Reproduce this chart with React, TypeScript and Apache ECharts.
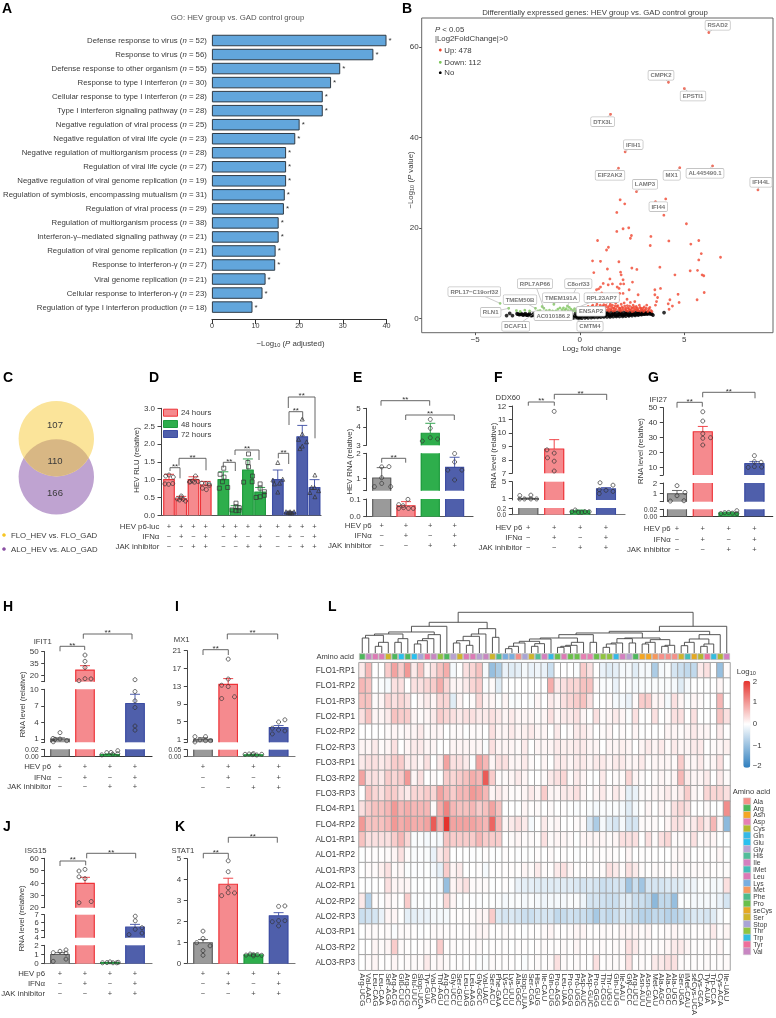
import React, { useEffect, useRef } from "react";
import * as echarts from "echarts";

const FONT = "'Liberation Sans', Arial, sans-serif";
const INK = "#3a3a3a";

// ---------- Panel A ----------
const GO_TERMS = ["Defense response to virus","Response to virus","Defense response to other organism","Response to type I interferon","Cellular response to type I interferon","Type I interferon signaling pathway","Negative regulation of viral process","Negative regulation of viral life cycle","Negative regulation of multiorganism process","Regulation of viral life cycle","Negative regulation of viral genome replication","Regulation of symbiosis, encompassing mutualism","Regulation of viral process","Regulation of multiorganism process","Interferon-γ–mediated signaling pathway","Regulation of viral genome replication","Response to interferon-γ","Viral genome replication","Cellular response to interferon-γ","Regulation of type I interferon production"];
const GO_COUNTS = [52,56,55,30,28,28,25,23,28,27,19,31,29,38,21,21,27,21,23,18];
const GO_VALUES = [40,37,29.4,27.3,25.4,25.4,20.1,19.1,17,17,17,16.7,16.5,15.3,15.3,14.6,14.5,12.3,11.6,9.3];

// ---------- Panel B ----------
const UP_POINTS = [[6.17,63.2],[4.24,52.2],[5,50.8],[1.47,45.1],[2.17,36.8],[1.85,33.2],[4.78,33.3],[6.35,33.7],[2.71,28],[8.52,28.4],[3.62,25.8],[4.11,26.4],[1.93,26.2],[2.15,25.3],[1.77,23.4],[4.02,22.8],[5.1,20.9],[1.77,19.2],[2.07,19.8],[2.34,20],[2.47,18.3],[2.42,17.7],[.85,17.2],[3.4,18.1],[4.26,17.1],[3.37,16.1],[5.31,16.4],[5.69,17.2],[1.37,15.7],[1.28,15.1],[5.81,14.3],[5.69,12.9],[6.73,13.5],[.61,12.7],[.99,12.6],[1.87,12.5],[2.49,11.1],[2.73,10.8],[3.83,11.3],[1.32,10.9],[.67,10.1],[5.28,10.5],[5.63,10.6],[4.55,9.6],[5.85,9.6],[5.93,9.4],[.8,6.3],[.99,6.9],[1.12,7.7],[1.36,7.4],[1.56,7.6],[1.79,6.9],[1.88,6.6],[1.95,7.6],[2.07,8.5],[2.1,7.6],[2.52,8],[1.44,8.7],[1.95,10.2],[1.98,9.6],[2.36,6.3],[2.07,5.5],[3.59,6.3],[3.86,6.6],[3.59,5.2],[3.72,4.6],[4.31,4.1],[4.7,5.3],[4.75,3.5],[4.43,2.7],[4.23,3.2],[4.27,2],[5.61,4.1],[5.95,5.7],[3.35,2.4],[3.62,2.9],[3.67,3.7],[2.79,5.2],[2.63,3.7],[1.91,5.5],[2.26,4.2],[1.44,4.4],[1.24,5.2],[.9,6.5],[1.05,5.6],[.72,5.4],[.55,4.1],[.62,2.9],[.4,2.6],[.48,1.9],[.7,2.3],[.82,3.1],[.93,2.5],[1,3.7],[1.08,2.1],[1.15,3],[1.22,2.4],[1.3,3.6],[1.38,2.1],[1.46,3.1],[1.52,2.5],[1.6,4.5],[1.65,2.2],[1.72,3.3],[1.78,2.6],[1.84,4.1],[1.92,2.2],[1.98,3.1],[2.02,2.5],[2.12,3.4],[2.2,2.2],[2.27,2.8],[2.35,2.1],[2.42,3.5],[2.48,2.4],[2.55,2.9],[2.62,2],[2.7,2.6],[2.78,2.1],[2.85,2.9],[2.92,2.2],[3,1.8],[3.08,2.5],[3.14,1.9],[3.2,2.9],[3.28,1.7],[.55,2.1],[.75,1.8],[.95,1.9],[1.12,1.7],[1.3,1.8],[1.5,1.8],[1.68,1.7],[1.86,1.8],[2.05,1.8],[2.22,1.7],[2.4,1.8],[2.58,1.6],[2.75,1.7],[2.9,1.6],[3.05,1.5],[3.25,1.5],[3.4,1.7],[.35,1.8],[.6,1.7],[.85,1.6],[1.05,1.6],[1.4,1.6],[1.6,1.6],[1.95,1.6],[2.3,1.6],[2.5,1.5]];
const UP_CLOUD = [[.42,1.7],[.5,2.3],[.58,2.6],[.65,1.9],[.78,2.6],[.88,2.1],[.98,2.9],[1.02,2.3],[1.1,2.7],[1.18,1.9],[1.25,2.9],[1.33,2.5],[1.42,2.7],[1.48,2],[1.56,2.9],[1.6,2.2],[1.68,2.7],[1.74,2],[1.82,2.8],[1.88,2.3],[1.95,2],[2.08,2.2],[2.15,2.7],[2.18,1.9],[2.3,2.3],[2.38,2.7],[2.45,1.9],[2.52,2.2],[2.6,2.5],[2.68,1.9],[2.72,2.3],[2.8,1.7],[2.88,2.4],[2.95,1.9],[3.02,2.2],[3.1,1.7],[3.18,2.2],[3.3,2.1],[3.45,1.5]];
const DOWN_POINTS = [[-3.81,3.3],[-3.4,2.2],[-3.03,1.7],[-2.85,1.5],[-2.63,1.8],[-2.4,1.6],[-2.12,2.2],[-1.8,2.6],[-1.72,2.2],[-1.6,1.7],[-1.45,1.8],[-1.24,3.1],[-1.05,2],[-.95,2.3],[-.85,1.9],[-.72,1.8],[-.59,2.7],[-.5,2.4],[-.42,2],[-.33,1.7],[-.25,2.1],[-.2,1.6],[-.12,1.7],[-.55,1.7],[-1.3,1.6],[-.78,2.3],[-2,1.6],[-1.9,1.7],[-.65,2.1],[-1.15,1.6]];
const NS_POINTS = [[-3.5,.6],[-3.35,1.1],[-3.22,.6],[-3,1],[-2.9,.8],[-2.8,1],[-2.7,.7],[-2.6,1],[-2.5,.7],[-2.4,1],[-2.3,.6],[-2.2,1],[-2.1,.5],[-2,.9],[-1.9,.5],[-1.8,.9],[-1.7,.4],[-1.6,.9],[-1.5,.4],[-1.4,.9],[-1.3,.3],[-1.2,.9],[-1.1,.3],[-1,.9],[-.9,.2],[-.8,.9],[-.7,.2],[-.6,.9],[-.5,.1],[-.4,1],[-.3,.1],[-.2,1.1],[-.15,.4],[-.1,.05],[-.05,.7],[0,.1],[0,1.2],[.05,.4],[.05,.9],[.1,.05],[.15,1.3],[.2,.5],[.25,.1],[.3,1.3],[.35,.6],[.4,.1],[.45,1.3],[.5,.6],[.55,.15],[.6,1.3],[.65,.7],[.7,.2],[.75,1.3],[.8,.7],[.85,.2],[.9,1.3],[.95,.8],[1,.25],[1.05,1.3],[1.1,.8],[1.15,.3],[1.2,1.3],[1.25,.8],[1.3,.3],[1.35,1.3],[1.4,.8],[1.45,.3],[1.5,1.3],[1.55,.8],[1.6,.35],[1.65,1.3],[1.7,.85],[1.75,.4],[1.8,1.3],[1.85,.85],[1.9,.4],[1.95,1.3],[2,.9],[2.05,.45],[2.1,1.3],[2.15,.9],[2.2,.5],[2.25,1.3],[2.3,.9],[2.35,.55],[2.4,1.3],[2.45,.95],[2.5,.6],[2.55,1.3],[2.6,1],[2.65,.65],[2.7,1.3],[2.75,1],[2.8,.7],[2.85,1.3],[2.9,1],[2.95,.8],[3,1.3],[3.05,1],[3.1,.9],[3.15,1.3],[3.2,1],[3.25,1],[3.3,1.2],[3.35,1],[3.5,.7],[4.03,1.25]];
const NS_BAND = [[-2.95,.9],[-2.85,.85],[-2.75,.8],[-2.65,.85],[-2.55,.7],[-2.45,.75],[-2.35,.65],[-2.25,.7],[-2.15,.6],[-2.05,.6],[-1.95,.5],[-1.85,.55],[-1.75,.5],[-1.65,.5],[-1.55,.4],[-1.45,.5],[-1.35,.35],[-1.25,.45],[-1.15,.3],[-1.05,.4],[-.95,.25],[-.85,.45],[-.75,.2],[-.65,.45],[-.55,.2],[-.45,.5],[-.35,.3],[-.25,.5],[-.2,.2],[-.1,.6],[-.05,.2],[.12,.7],[.22,.9],[.32,.3],[.42,.8],[.52,1],[.62,.4],[.72,.9],[.82,1],[.92,.5],[1.02,.7],[1.12,.55],[1.22,.6],[1.32,1],[1.42,.55],[1.52,.6],[1.62,1],[1.72,.6],[1.82,.65],[1.92,1],[2.02,.7],[2.12,.65],[2.22,1],[2.32,.7],[2.42,.75],[2.52,.9],[2.62,.8],[2.72,.85],[2.82,.95],[2.92,.9],[3.02,1.05],[3.12,1.05],[3.22,1.1],[3.4,1.05],[3.45,.9]];
const VOLCANO_LABELS: [string, number, number, number, number][] = [["RSAD2",6.17,63.2,717.7,25.3],["CMPK2",4.24,52.2,661,75.3],["EPSTI1",5,50.8,693,96],["DTX3L",1.47,45.1,602.7,121.7],["IFIH1",2.17,36.8,633.3,144.7],["EIF2AK2",1.85,33.2,610,175.3],["MX1",4.78,33.3,671.7,175.3],["AL445490.1",6.35,33.7,705,173.3],["LAMP3",2.71,28,645,184.3],["IFI44L",8.52,28.4,761,182.3],["IFI44",3.62,25.8,658.3,206.7],["RPL17−C19orf32",-3.81,3.3,474.3,291.7],["RLN1",-3.4,2.2,490.7,312.3],["TMEM50B",-2.12,2.2,520,299.7],["RPL7AP66",-1.72,2.2,535,283.7],["TMEM191A",-1.24,3.1,561,297.7],["C8orf33",-.59,2.7,578.3,283.7],["RPL23AP7",-.25,2.1,601.7,297.7],["AC010186.2",-2.4,1.6,553.3,315.7],["ENSAP2",-.5,1.7,591,311.3],["CMTM4",-.3,.1,590,326.3],["DCAF11",-2.2,1,515.7,326.3]];

// ---------- Bar panels ----------
const SIGN_HEV = ["+","+","+","+"];
const SIGN_IFN = ["−","+","−","+"];
const SIGN_JAK = ["−","−","+","+"];

const D_VALUES = [1,.46,1,.85,1,.18,1.27,.65,1,.08,2.2,.78];
const D_ERRORS = [1.15,.53,1.08,.95,1.22,.27,1.58,.78,1.27,.1,2.52,1];
const D_POINTS = [
  [[-.27,1.1],[0,1.13],[.35,1.07],[-.33,.88],[-.03,.87],[.3,.89]],
  [[0,.54],[-.33,.46],[-.14,.43],[.16,.45],[.35,.4],[0,.49]],
  [[-.27,.95],[-.08,.96],[.16,1.1],[.35,.95],[-.33,.93],[.08,.93]],
  [[-.33,.9],[0,.89],[.27,.88],[-.27,.76],[.05,.72],[.3,.84]],
  [[.03,1.32],[-.27,1.15],[.05,1.07],[-.33,.76],[.35,.78],[-.08,.94]],
  [[.03,.34],[.03,.24],[-.3,.15],[.27,.14],[.03,.13],[.3,.21]],
  [[.05,1.72],[0,1.48],[.05,1.36],[.38,1.1],[-.35,.93],[.35,.94]],
  [[0,.88],[0,.76],[.35,.66],[-.33,.5],[0,.52],[.35,.56]],
  [[0,1.48],[-.4,.99],[.4,1.01],[.14,.9],[-.27,.88],[0,.65]],
  [[-.33,.1],[-.16,.08],[0,.1],[.16,.07],[.33,.1],[0,.07]],
  [[0,2.7],[0,2.28],[-.3,2.13],[.35,2.06],[0,1.94],[-.19,1.87]],
  [[.03,1.13],[-.24,.78],[0,.78],[.33,.69],[.03,.52],[-.38,.64]],
];
const E_VALUES = [1,.062,3.65,1.43];
const E_ERRORS = [1.42,.085,4.19,1.84];
const E_POINTS = [
  [[0,1.45],[.3,1.46],[0,1.01],[0,.78],[-.3,.65],[.37,.65]],
  [[-.3,.068],[-.12,.062],[.08,.098],[-.3,.047],[-.1,.051],[.1,.047],[.3,.047]],
  [[0,4.4],[0,3.92],[0,3.41],[.3,3.34],[-.33,3.23]],
  [[0,1.99],[0,1.65],[.3,1.32],[-.28,1.32],[0,.92]],
];
const F_VALUES = [1,8.8,.12,3.3];
const F_ERRORS = [1.15,9.5,.14,3.6];
const F_POINTS = [
  [[-.33,1.73],[-.33,.92],[-.15,.92],[.1,1.82],[.1,.92],[.32,.92]],
  [[0,11.6],[-.28,8.74],[0,8.5],[-.26,8.15],[0,7.9],[0,7.17]],
  [[-.32,.09],[-.19,.14],[-.06,.07],[.06,.07],[.19,.09],[.35,.09]],
  [[-.23,4.75],[-.26,3.1],[-.26,2.2],[0,2.96],[.27,4.18],[.27,2.7]],
];
const G_VALUES = [1,34,.01,12.7];
const G_ERRORS = [1.3,37.5,.012,14];
const G_POINTS = [
  [[-.26,2.03],[0,1.75],[.31,1.12],[0,.81],[-.26,.31],[.27,.34]],
  [[0,47.3],[0,41.1],[0,32.7],[0,29.6],[.3,30],[0,25.1]],
  [[-.3,.008],[-.15,.0105],[0,.011],[.15,.009],[.32,.016],[.32,.008]],
  [[0,18],[0,14],[.26,13.6],[-.24,10.2],[0,10.7],[.28,10.4]],
];
const H_VALUES = [1,27,.005,7.42];
const H_ERRORS = [1.2,32.5,.007,9.1];
const H_POINTS = [
  [[0,2.15],[-.28,1.1],[0,1],[.27,.7],[-.27,.5],[-.2,.95]],
  [[0,45.8],[0,38],[0,30.4],[.24,16],[0,16.25],[-.24,13.75]],
  [[-.33,.004],[-.13,.0105],[.04,.011],[.11,.006],[.31,.016],[.31,.0075]],
  [[0,15],[0,9.6],[0,7.9],[0,6.7],[0,3.35],[0,2.6]],
];
const I_VALUES = [1,13.4,.012,3.63];
const I_ERRORS = [1.35,14.7,.015,4.1];
const I_POINTS = [
  [[-.32,1.6],[-.32,.4],[-.12,.85],[.1,1.6],[.1,.7],[.3,.7]],
  [[0,19.1],[0,14.6],[-.26,13.2],[0,12.9],[.25,10.6],[-.26,10.2]],
  [[-.33,.015],[-.17,.0175],[-.03,.0125],[.13,.01],[.33,.015],[0,.02]],
  [[.25,5.4],[0,4.9],[-.25,3.5],[0,3.1],[.25,2.9],[-.25,2.2]],
];
const J_VALUES = [1,39.7,.12,5.39];
const J_ERRORS = [1.2,44.6,.14,5.74];
const J_POINTS = [
  [[.24,1.5],[.24,.5],[0,1.35],[-.27,1.2],[-.27,.25],[.24,1.15]],
  [[-.24,49.7],[0,51],[-.24,45],[0,43.5],[-.24,24],[.25,25]],
  [[-.3,.1],[-.12,.12],[0,.2],[.12,.1],[.27,.1],[.33,.15]],
  [[.01,6.8],[.01,6.2],[.28,5.3],[.01,5.1],[.28,4.6],[-.24,4.4]],
];
const K_VALUES = [1,3.78,.42,2.28];
const K_ERRORS = [1.15,4.07,.47,2.43];
const K_POINTS = [
  [[0,1.55],[0,1.2],[-.25,1],[.28,.85],[0,.62],[0,.4]],
  [[0,4.9],[0,4.38],[0,3.62],[0,3.38],[-.26,3.24],[.25,3.37]],
  [[-.29,.41],[-.13,.46],[0,.43],[.16,.43],[.33,.4],[0,.37]],
  [[0,2.73],[.25,2.75],[-.25,2],[0,2.05],[.25,2.05],[0,1.8]],
];

// ---------- Venn ----------
const VENN_COUNTS = ["107","110","166"];

// ---------- Heatmap ----------
const HEAT_ROWS = ["FLO1-RP1","FLO1-RP2","FLO1-RP3","FLO2-RP1","FLO2-RP2","FLO2-RP3","FLO3-RP1","FLO3-RP2","FLO3-RP3","FLO4-RP1","FLO4-RP2","ALO1-RP1","ALO1-RP2","ALO1-RP3","ALO2-RP1","ALO2-RP2","ALO2-RP3","ALO3-RP1","ALO3-RP2","ALO3-RP3"];
const TRNA = ["Arg-UCG","Val-AAC","Leu-CAG","Leu-CAA","Ser-AGA","Arg-ACG","Glu-CUC","Arg-CCG","Glu-UUC","Stop-UCA","Tyr-GUA","Val-CAC","Thr-AGU","Arg-CCU","Gly-UCC","Ser-GCU","Leu-UAG","Leu-AAG","Gly-GCC","Val-UAC","Ser-ACU","Phe-GAA","Lys-CUU","Lys-UUU","Ala-GGC","Stop-UUA","Ser-CGA","His-GUG","Ile-CAU","Gln-CUG","Pro-AGG","Leu-UAA","Pro-CGG","Pro-UGG","Asp-AUC","Asp-GUC","Pro-GGG","Thr-CGU","Thr-UGU","Gln-UUG","Ile-AAU","Gly-CCC","Arg-UCU","Asn-AUU","Asn-GUU","Met-CAU","Ala-AGC","Ala-CGC","Ala-UGC","Ser-UGA","iMet-CAU","seCys-UCA","Cys-GCA","Tyr-AUA","Trp-CCA","Cys-ACA","Ile-UAU"];
const AMINO = ["Ala","Arg","Asn","Asp","Cys","Gln","Glu","Gly","His","Ile","iMet","Leu","Lys","Met","Phe","Pro","seCys","Ser","Stop","Thr","Trp","Tyr","Val"];
const AMINO_COLORS = ["#f69089","#4db85c","#f5a623","#e77fb3","#b3b82e","#35b9e6","#29c0ef","#b9a2d2","#53bd9a","#d57fc0","#45bdb8","#dd7ab6","#79aee0","#f6985e","#4dbb8b","#69c04a","#e5a823","#cfb52b","#a9a4d6","#8fc43f","#33bddf","#ef6f9b","#c886c2"];
const R01 = [.2,.7,0,0,.5,.9,.5,1,.2,.6,.1,.3,.6,.8,-.1,0,.3,.4,.6,-.1,-1,-.8,-.2,-.3,-.25,-.1,-.2,-.15,-.2,-.5,0,0,0,-.05,.5,.3,0,-.2,-.3,-.25,-.1,-.1,-.3,-.1,-.1,-.8,-.1,-.05,-.4,-.5,-.6,-.6,.2,.3,0,-1,.05];
const R02 = [.7,.6,0,-.05,-.1,.3,.3,0,.3,.3,.4,.5,.8,.4,.1,.1,.2,.4,.5,-.05,.05,-.3,0,0,0,0,0,0,0,.8,.2,.3,.4,.4,.6,.6,.05,-.05,-.05,-.2,0,-.05,-.1,-.05,-.05,-.05,-.05,-.05,-.1,-.3,-.1,0,0,0,0,.1,0];
const R03 = [.6,.6,.05,.1,.4,.3,.4,.3,0,.1,.2,.1,.4,.4,-.3,.1,0,.05,.4,.1,.1,-.05,.1,-.05,-.05,0,-.05,.1,0,.2,.1,.3,.4,.5,.6,.3,0,0,.05,-.1,-.1,-.2,.05,.5,.5,.1,.1,-.1,.3,.1,-.05,.1,.05,0,0,.7,0];
const R04 = [.3,.6,.1,.1,.2,.6,.5,.5,.1,.05,.1,.2,.5,.4,.3,.2,.3,.3,.2,.2,.3,.2,.1,.2,.1,.1,.1,.05,.1,.3,.1,.2,.2,.3,.1,0,.3,.05,.1,.2,.1,-.05,.3,0,0,.3,0,.05,.3,.3,0,.3,0,0,0,.6,.3];
const R05 = [0,0,0,0,.05,.1,.05,.1,.1,.2,.05,.1,.1,0,.05,.05,-.02,.05,.05,0,.3,.1,.1,.2,.1,.15,.2,.1,.1,0,.2,0,.05,.2,.2,.1,0,.05,.1,0,.05,0,.1,-.02,0,0,0,.1,.1,.05,.1,.2,.1,.1,0,.2,.02];
const R06 = [.1,.1,.2,.05,.1,.3,0,.1,.2,.2,.1,.1,0,0,.1,.1,.1,.1,.1,-.05,.3,.1,.1,.1,.05,.2,0,.1,.1,.1,.2,.15,.15,.2,.2,.1,.1,0,.1,.1,.15,.1,0,.1,.2,.1,.2,.05,.2,.1,.1,.2,.2,0,.05,.1,.15];
const R07 = [.2,.3,.3,.2,.3,.5,.5,.2,.2,.1,.3,0,.2,.9,.3,.3,.2,-.05,.9,.7,.1,.3,.3,.1,.1,.2,.05,0,.1,0,.2,.2,.1,.2,.2,.1,.2,.2,.1,.2,.2,.1,.1,.2,.05,.1,.1,.1,.05,.5,.1,.1,.2,.05,.1,.3,0];
const R08 = [.9,.3,.3,.2,.5,.4,.5,1,.1,.3,0,.05,0,.5,.4,.5,.6,.8,.7,1.6,.5,.05,.05,.1,.2,.1,0,0,.05,.2,.3,.4,.05,.2,.1,0,-.02,.2,0,.05,.05,.4,.1,.05,0,.05,.1,.05,.1,.7,.2,.1,.1,.2,0,.2,.05];
const R09 = [0,.6,.4,.3,.5,.5,.3,.2,.4,.4,.5,.4,.9,.7,.5,.7,.7,1,.9,.7,.1,.2,.1,.05,.05,.1,.2,.1,.5,.1,.1,.2,.2,.3,.1,0,.1,.2,.05,.2,.1,-.25,-.2,.05,.05,.1,.1,.2,.1,.2,.5,.1,.05,.4,.4,.4,.3];
const R10 = [.3,.5,.6,.6,.7,1,.7,.8,.7,.7,.7,.05,.8,1.2,.7,.6,.6,.7,.5,.6,.9,.6,0,0,-.02,.1,.02,.05,0,.05,0,.02,-.02,-.05,0,-.05,-.1,-.05,-.05,-.05,-.1,-.3,-.1,0,.1,0,.1,.05,.3,.4,.3,0,0,.05,0,0,1.1];
const R11 = [1,.6,.6,.6,.7,1,.8,.9,.8,.8,.9,1.6,.8,2,.9,.9,.9,.9,.8,.7,1.5,.7,.1,.2,.3,.2,-.1,0,.2,.05,.1,0,0,.05,.05,-.4,-.8,-.1,-.3,-.4,-.1,-.4,-.4,.05,.05,.05,0,.1,.3,.3,.1,.2,.4,.2,.7,.1,-1.1];
const R12 = [.6,.3,.3,.3,.3,.5,.7,.4,-.05,-.05,-.1,-.05,-.1,.6,.5,.5,.5,.5,.7,.5,.5,.5,0,.05,.1,.05,.05,.02,.3,.05,.1,.1,.05,-.02,.1,.1,.1,.1,.05,.1,.3,.3,.3,0,.3,.05,.3,.4,.05,.05,.05,.3,.05,.1,.1,0,0];
const R13 = [-.02,.02,.02,.02,.05,.1,.3,.05,-.05,-.03,-.05,-.2,.2,.4,0,0,0,-.03,-.02,.02,-.02,-.02,.02,0,-.03,-.02,-.02,.02,0,.05,0,.02,0,-.03,0,0,.05,.02,.05,.02,0,.1,0,.02,.02,0,0,0,.05,.1,.05,0,.02,0,.02,.1,0];
const R14 = [0,.05,.05,.15,.3,.05,.1,-.05,-.03,-.03,-.02,-.1,-.25,.5,.1,.2,0,0,.02,-.1,.02,.02,.02,.03,.02,.1,.05,.2,.05,.02,.2,.3,.1,.02,.02,.05,.02,.05,.3,.2,.05,.3,.2,.05,.02,.05,.05,.02,.1,.05,.05,.05,.05,.05,.02,.02,.05];
const R15 = [0,-.03,0,0,.3,.1,.1,.1,-.02,-.02,-.02,-.02,-.1,-1,.1,.2,.3,.05,.05,.05,-.02,0,.02,-.03,-.2,-.25,-.25,-.3,-.3,-.3,-.3,-.3,-.3,-.35,-.4,-.35,-.4,-.5,-.45,-.4,-.4,-.9,-.5,-.9,-.4,-.4,-.4,-.35,-.35,-.3,-.15,-.15,-.05,-.05,-.1,-.1,.3];
const R16 = [.2,-.7,.02,-.03,.1,.05,0,.5,-.05,-.02,-.05,-.05,-.03,.4,.1,-.03,0,-.03,-.03,-.02,-.02,-.05,-.1,-.05,-.05,-.1,-.05,-.1,-.15,-.1,-.1,-.1,-.05,-.05,-.15,-.4,-.4,-.45,-.5,-.5,-.3,-.3,-.5,-.5,-.6,-1.1,-.6,-.6,-1,-.05,-.03,-.1,-.1,-.1,-.1,-.2,-.4];
const R17 = [-.5,-.45,-.4,-.2,.1,.1,0,-.25,-.25,-.2,-.2,-.1,-.1,-.1,.02,.02,.02,.05,.1,.1,.5,-.35,-.4,-.35,-.4,-.5,-.5,-.4,-.4,-.4,-.6,-.55,-.45,-.5,-.5,-.6,-.85,-.5,-.6,-.5,-.35,-.45,-.55,-.7,-.7,-.6,-.6,-.7,-.7,-.6,-.45,-.35,-.35,-.4,-.3,-.1,0];
const R18 = [0,.05,.05,.02,.05,-.05,.05,.05,.02,-.03,0,.05,.05,.03,.03,.02,.02,.05,.1,.1,.02,.02,.05,.02,0,-.03,.02,.02,.05,.1,.02,.02,.05,.1,.1,.02,.02,.05,.05,.02,.1,.1,.1,.05,.1,0,.02,.05,.1,.05,.05,.02,.03,.05,.2,.03,.1];
const R19 = [0,0,.1,.05,.1,.5,.05,.02,0,.02,.05,.02,.5,.02,.05,.02,.02,.03,.05,0,.02,.02,.02,0,.02,.02,0,.02,.05,.02,.02,.05,.02,.1,.02,.02,.02,.05,.02,.05,.05,.3,.2,.05,.05,.02,.05,.1,.2,.2,.1,.02,.02,.05,.02,.1,0];
const R20 = [0,.05,.1,.02,.02,.1,.02,.05,.05,.05,.2,.05,.1,.05,.02,.02,0,.02,-.03,-.05,.05,.02,.02,.02,0,-.05,.02,.05,.02,.05,.3,.05,.02,.05,.02,0,.3,.02,.05,.05,.05,.3,.02,.05,.02,.2,.2,.3,.3,.05,.02,.02,.02,.05,.02,.02,.05];
const HEAT_VALUES = [R01,R02,R03,R04,R05,R06,R07,R08,R09,R10,R11,R12,R13,R14,R15,R16,R17,R18,R19,R20];
// Dendrogram: [height, left, right]; 0 = next leaf, left to right
const S1: any = [55,[45,[42,[35,[30,[20,[13,0,0],0],0],[28,[20,0,0],0]],0],[32,[23,[20,[17,0,0],0],0],0]],[32,0,0]];
const S2: any = [45,[43,[30,[27,[17,0,0],0],0],[30,0,0]],[40,[32,[27,0,0],0],[23,[20,0,0],0]]];
const DENDRO_LEFT: any = [92,[80,[63,[57,[53,[45,0,0],[32,[20,0,0],0]],[43,[32,0,0],0]],[55,[43,[37,[27,0,0],0],0],0]],0],[73,[57,[50,[37,[30,0,0],[23,0,0]],0],0],[47,0,0]]];
const DENDRO_RIGHT: any = [80,[65,[60,S1,S2],[55,[42,[32,[22,0,0],0],[27,[20,0,0],0]],0]],0];
const DENDRO: any = [122,DENDRO_LEFT,DENDRO_RIGHT];

// ---------- styling ----------
const FILLS = ["#9a9a9a","#f58a8e","#2eae4c","#4f5fab"];
const STROKES = ["#5c5c5c","#ee3338","#1f9a3e","#3c4da3"];
const TXT = 7.8;

const grids: any[] = [], xAxes: any[] = [], yAxes: any[] = [], series: any[] = [], gfx: any[] = [];

const richBase = { fontSize: TXT, fontFamily: FONT, fill: INK };
const richStyles = { r: richBase, s: { ...richBase, fontSize: 5.6, verticalAlign: "bottom" }, i: { ...richBase, fontStyle: "italic" } };

function text(x: number, y: number, t: string, o: any = {}) {
  const { rotation, ...st } = o;
  gfx.push({ type: "text", x, y, z: 100, rotation, silent: true, style: { text: t, fontFamily: FONT, fontSize: TXT, fill: INK, align: "left", verticalAlign: "middle", ...st } });
}
function polyline(points: number[][], stroke = "#444", lineWidth = 0.9) {
  gfx.push({ type: "polyline", z: 99, silent: true, shape: { points }, style: { stroke, lineWidth, fill: "none" } });
}
function bracket(b: number[], stroke = "#555") {
  const [x1, x2, y, l, r] = b;
  polyline([[x1, l], [x1, y], [x2, y], [x2, r]], stroke);
  text((x1 + x2) / 2, y - 1.2, "**", { align: "center", fontSize: 8, fill: "#333" });
}

function barPanel(p: any) {
  const xMin = (p.axisX - p.center0) / p.step, xMax = (p.endX - p.center0) / p.step;
  const slots: number[] = p.slots || p.values.map((_: number, i: number) => i);
  const cols: number[] = p.colors || [0, 1, 2, 3];
  p.segs.forEach((seg: any, si: number) => {
    const g = grids.length;
    grids.push({ left: p.axisX, width: p.endX - p.axisX, top: seg.top, height: seg.bottom - seg.top });
    xAxes.push({ gridIndex: g, type: "value", min: xMin, max: xMax, show: si === 0, axisLine: { onZero: false, lineStyle: { color: p.baseColor || "#555", width: 1.2 } }, axisTick: { show: false }, axisLabel: { show: false }, splitLine: { show: false } });
    yAxes.push({ gridIndex: g, type: "value", min: seg.min, max: seg.max, axisLine: { show: true, onZero: false, lineStyle: { color: "#444", width: 1 } }, axisTick: { show: true, length: 3.5, customValues: seg.ticks, lineStyle: { color: "#444", width: 1 } }, axisLabel: { show: false }, splitLine: { show: false } });
    // tick labels: the tight broken-axis segments would lose labels to the axis' overlap handling
    const yOf = (v: number) => seg.bottom - ((v - seg.min) / (seg.max - seg.min)) * (seg.bottom - seg.top);
    const ys = seg.labels.map(yOf);
    let gap = 99;
    for (let i = 1; i < ys.length; i++) gap = Math.min(gap, Math.abs(ys[i] - ys[i - 1]));
    seg.labels.forEach((v: number, i: number) => text(p.axisX - 6, ys[i], seg.digits ? v.toFixed(seg.digits) : String(v), { align: "right", fontSize: Math.min(8, gap) }));
    const inSeg = (v: number) => v >= seg.min && v <= seg.max;
    series.push({
      type: "bar", xAxisIndex: g, yAxisIndex: g, barWidth: p.barWidth, clip: true, silent: true, z: 2,
      data: p.values.map((v: number, i: number) => ({ value: [slots[i], v], itemStyle: { color: FILLS[cols[i]] } })),
    });
    const w = p.barWidth;
    series.push({
      type: "custom", xAxisIndex: g, yAxisIndex: g, coordinateSystem: "cartesian2d", silent: true, z: 3, encode: { x: 0, y: 1 },
      data: p.values.map((v: number, i: number) => [slots[i], v, p.errors[i], cols[i]]),
      renderItem: (_: any, api: any) => {
        const x = api.value(0), v = api.value(1), err = api.value(2), c = api.value(3);
        const children: any[] = [];
        const stroke = STROKES[c];
        if (v >= seg.min) {
          const b = api.coord([x, seg.min]), t = api.coord([x, Math.min(v, seg.max)]);
          const L = b[0] - w / 2 + 0.5, R = b[0] + w / 2 - 0.5;
          if (v <= seg.max) children.push({ type: "polyline", shape: { points: [[L, b[1]], [L, t[1]], [R, t[1]], [R, b[1]]] }, style: { stroke, lineWidth: 1.1, fill: "none" } });
          else {
            children.push({ type: "line", shape: { x1: L, y1: b[1], x2: L, y2: t[1] }, style: { stroke, lineWidth: 1.1 } });
            children.push({ type: "line", shape: { x1: R, y1: b[1], x2: R, y2: t[1] }, style: { stroke, lineWidth: 1.1 } });
          }
        }
        if (inSeg(err)) {
          const e = api.coord([x, err]), base = api.coord([x, Math.max(v, seg.min)]);
          children.push({ type: "line", shape: { x1: e[0], y1: base[1], x2: e[0], y2: e[1] }, style: { stroke, lineWidth: 0.9 } });
          children.push({ type: "line", shape: { x1: e[0] - 5, y1: e[1], x2: e[0] + 5, y2: e[1] }, style: { stroke, lineWidth: 0.9 } });
        }
        return { type: "group", children };
      },
    });
    const pts: any[] = [];
    p.points.forEach((arr: number[][], i: number) => arr.forEach(([o, v]) => { if (inSeg(v)) pts.push({ value: [slots[i] + o, v], symbol: p.symbols ? p.symbols[i] : "circle" }); }));
    series.push({ type: "scatter", xAxisIndex: g, yAxisIndex: g, clip: false, silent: true, z: 4, symbolSize: p.symbolSize || 4, itemStyle: { color: "rgba(255,255,255,0.01)", borderColor: "#333", borderWidth: 0.9 }, data: pts });
  });
  // rows of +/- signs
  const sets = [SIGN_HEV, SIGN_IFN, SIGN_JAK];
  p.rows.forEach((r: any, ri: number) => {
    if (r.label) text(p.labelEnd, r.y, r.label, { align: "right" });
    slots.forEach((s, i) => text(p.center0 + s * p.step, r.y, sets[ri][i % 4], { align: "center", fontSize: 7.5, fill: "#444" }));
  });
  if (p.gene) text(p.gene[0], p.gene[1], p.gene[2], { align: "center", fontSize: 7.7 });
  if (p.yTitle) text(p.yTitle[0], p.yTitle[1], p.yTitle[2], { align: "center", rotation: Math.PI / 2, fontSize: 7.7 });
  (p.brackets || []).forEach((b: number[]) => bracket(b));
}

// --- letters
[["A",2,8],["B",402,8],["C",3,376.7],["D",149,376.7],["E",353,376.7],["F",494,376.7],["G",648,376.7],["H",3,606],["I",175,606],["J",3,825.7],["K",175,825.7],["L",328,606]].forEach(([l, x, y]: any) => text(x, y, l, { fontSize: 14, fontWeight: "bold", fill: "#000" }));

// --- A
{
  const g = grids.length;
  grids.push({ left: 209.5, width: 177, top: 33.5, height: 280.6 });
  xAxes.push({ gridIndex: g, type: "value", min: 0, max: 40, interval: 10, offset: 5, axisLine: { show: true, onZero: false, lineStyle: { color: "#333" } }, axisTick: { show: true, length: 5, lineStyle: { color: "#333" } }, axisLabel: { fontSize: 7.2, fontFamily: FONT, color: INK, margin: 3 }, splitLine: { show: false } });
  yAxes.push({ gridIndex: g, type: "category", inverse: true, data: GO_TERMS.map((t, i) => `${t}|${GO_COUNTS[i]}`), axisLine: { show: false }, axisTick: { show: false }, axisLabel: { interval: 0, margin: 5, align: "right", formatter: (s: string) => { const [t, n] = s.split("|"); return `{t|${t} (}{i|n}{t| = ${n})}`; }, rich: { t: { fontSize: TXT, fontFamily: FONT, color: INK }, i: { fontSize: TXT, fontFamily: FONT, color: INK, fontStyle: "italic" } } } });
  series.push({ type: "bar", xAxisIndex: g, yAxisIndex: g, barWidth: 11.5, silent: true, data: GO_VALUES, itemStyle: { color: "#62a6dc", borderColor: "#2f3b46", borderWidth: 1 }, label: { show: true, position: "right", distance: 2, formatter: "*", fontSize: 8, color: "#333", fontFamily: FONT } });
  text(237.5, 17, "GO: HEV group vs. GAD control group", { align: "center", fill: "#555" });
  text(290.5, 343.5, "{r|−Log}{s|10}{r| (}{i|P}{r| adjusted)}", { align: "center", rich: richStyles });
}

// --- B
const B = { left: 421.7, right: 773, top: 18, bottom: 332.7, xMin: -7.56, xMax: 9.24, yMin: -3.19, yMax: 66.4 };
{
  const g = grids.length;
  grids.push({ left: B.left, width: B.right - B.left, top: B.top, height: B.bottom - B.top, show: true, borderColor: "#666", borderWidth: 1, backgroundColor: "#fff" });
  xAxes.push({ gridIndex: g, type: "value", min: B.xMin, max: B.xMax, axisLine: { show: false, onZero: false }, axisTick: { show: true, length: 2.5, customValues: [-5, 0, 5], lineStyle: { color: "#555" } }, axisLabel: { show: true, customValues: [-5, 0, 5], margin: 3, fontSize: 8, fontFamily: FONT, color: INK, formatter: (v: number) => String(v).replace("-", "−") }, splitLine: { show: false } });
  yAxes.push({ gridIndex: g, type: "value", min: B.yMin, max: B.yMax, axisLine: { show: false, onZero: false }, axisTick: { show: true, length: 2.5, customValues: [0, 20, 40, 60], lineStyle: { color: "#555" } }, axisLabel: { show: true, customValues: [0, 20, 40, 60], margin: 3, fontSize: 8, fontFamily: FONT, color: INK }, splitLine: { show: false } });
  const sc = (data: number[][], color: string, z: number, size: number) => series.push({ type: "scatter", xAxisIndex: g, yAxisIndex: g, silent: true, z, symbolSize: size, itemStyle: { color }, data });
  sc([...NS_POINTS, ...NS_BAND], "#000000", 3, 3.8);
  sc(DOWN_POINTS, "#7cc65a", 4, 2.8);
  sc([...UP_POINTS, ...UP_CLOUD], "#f0452e", 4, 2.8);
  const px = (v: number) => B.left + ((v - B.xMin) / (B.xMax - B.xMin)) * (B.right - B.left);
  const py = (v: number) => B.bottom - ((v - B.yMin) / (B.yMax - B.yMin)) * (B.bottom - B.top);
  VOLCANO_LABELS.forEach(([name, vx, vy, bx, by]) => {
    polyline([[px(vx), py(vy)], [bx, by]], "#aaa", 0.6);
    text(bx, by, name, { align: "center", fontSize: 6, fontWeight: "bold", fill: "#777", backgroundColor: "#fff", borderColor: "#c4c4c4", borderWidth: 0.8, padding: [1.6, 2, 1.2, 2], borderRadius: 1 });
  });
  text(595, 12, "Differentially expressed genes: HEV group vs. GAD control group", { align: "center" });
  text(435, 29, "{i|P}{r| < 0.05}", { rich: richStyles });
  text(435, 38.3, "|Log2FoldChange|>0");
  text(444.3, 50, "Up: 478");
  text(444.3, 62.3, "Down: 112");
  text(444.3, 72.7, "No");
  [["#f0452e", 50], ["#7cc65a", 62.3], ["#000", 72.7]].forEach(([c, y]: any) => gfx.push({ type: "circle", z: 99, silent: true, shape: { cx: 440.3, cy: y, r: 1.4 }, style: { fill: c } }));
  text(410.7, 180, "{r|−Log}{s|10}{r| (}{i|P}{r| value)}", { align: "center", rotation: Math.PI / 2, rich: richStyles });
  text(591.7, 348.7, "{r|Log}{s|2}{r| fold change}", { align: "center", rich: richStyles });
}

// --- C
echarts.graphic.registerShape("vennLens", echarts.graphic.extendPath("M24,457.75 A37.5 37.5 0 0 1 88.6,457.75 A37.5 37.5 0 0 1 24,457.75 Z", {}) as any);
gfx.push({ type: "circle", silent: true, shape: { cx: 56.3, cy: 476.8, r: 37.7 }, style: { fill: "#bfa3d1" } });
gfx.push({ type: "circle", silent: true, shape: { cx: 56.3, cy: 438.7, r: 37.7 }, style: { fill: "#fbe49a" } });
gfx.push({ type: "vennLens", silent: true, x: 0, y: 0, style: { fill: "#d8b784" } });
text(55, 424.7, VENN_COUNTS[0], { align: "center", fontSize: 9.5 });
text(55, 460, VENN_COUNTS[1], { align: "center", fontSize: 9.5 });
text(55, 492, VENN_COUNTS[2], { align: "center", fontSize: 9.5 });
gfx.push({ type: "circle", silent: true, shape: { cx: 4, cy: 535, r: 1.8 }, style: { fill: "#f7c624" } });
gfx.push({ type: "circle", silent: true, shape: { cx: 4, cy: 549, r: 1.8 }, style: { fill: "#8a4fa3" } });
text(11, 535, "FLO_HEV vs. FLO_GAD");
text(11, 549, "ALO_HEV vs. ALO_GAD");

// --- D
barPanel({
  axisX: 161, endX: 321, center0: 169, step: 12.25, barWidth: 11.5, values: D_VALUES, errors: D_ERRORS, points: D_POINTS,
  slots: [0, 1, 2, 3, 4.44, 5.44, 6.44, 7.44, 8.88, 9.88, 10.88, 11.88],
  colors: [1, 1, 1, 1, 2, 2, 2, 2, 3, 3, 3, 3],
  symbols: ["circle", "circle", "circle", "circle", "rect", "rect", "rect", "rect", "triangle", "triangle", "triangle", "triangle"],
  segs: [{ min: 0, max: 3, top: 408.3, bottom: 515.3, ticks: [0, .5, 1, 1.5, 2, 2.5, 3], labels: [0, .5, 1, 1.5, 2, 2.5, 3], digits: 1 }],
  labelEnd: 159.3, rows: [{ y: 526, label: "HEV p6-luc" }, { y: 536.3, label: "IFNα" }, { y: 546.7, label: "JAK inhibitor" }],
  yTitle: [136, 460, "HEV RLU (relative)"],
  brackets: [[170, 180, 467.7, 471, 478.3], [179, 206, 458.3, 465.7, 470.3], [223.3, 235.3, 462.3, 467.7, 471], [235, 259, 450, 455, 460], [278.3, 288.7, 453.3, 458.3, 464], [289, 302.7, 411.7, 425, 420], [288.3, 315, 397, 408, 438.3]],
});
[["24 hours", 412.7, 1], ["48 hours", 424, 2], ["72 hours", 434, 3]].forEach(([t, y, c]: any) => {
  gfx.push({ type: "rect", z: 99, silent: true, shape: { x: 163.5, y: y - 3.5, width: 14, height: 7 }, style: { fill: FILLS[c], stroke: STROKES[c], lineWidth: 1 } });
  text(181, y, t);
});

// --- E
barPanel({
  axisX: 366.7, endX: 473, center0: 381.7, step: 24.3, barWidth: 19, values: E_VALUES, errors: E_ERRORS, points: E_POINTS,
  segs: [
    { min: 0, max: .1, top: 499, bottom: 516.7, ticks: [0, .1], labels: [0, .1], digits: 1 },
    { min: .486, max: 2, top: 453.3, bottom: 490.7, ticks: [.486, 1, 2], labels: [1, 2] },
    { min: 3, max: 5, top: 408.3, bottom: 445.3, ticks: [3, 4, 5], labels: [3, 4, 5] },
  ],
  labelEnd: 371.7, rows: [{ y: 525, label: "HEV p6" }, { y: 535.7, label: "IFNα" }, { y: 545.7, label: "JAK inhibitor" }],
  yTitle: [349, 461.7, "HEV RNA (relative)"],
  brackets: [[381.7, 405.7, 458.3, 462.7, 462.7], [405.7, 454.3, 415, 420, 420], [381, 429.7, 400.7, 405.7, 405.7]],
});

// --- F
barPanel({
  axisX: 512.3, endX: 625, center0: 528.3, step: 25.9, barWidth: 20, values: F_VALUES, errors: F_ERRORS, points: F_POINTS, baseColor: "#777",
  segs: [
    { min: 0, max: .2, top: 508, bottom: 514.7, ticks: [0, .2], labels: [0, .2], digits: 1 },
    { min: .67, max: 5, top: 481.7, bottom: 500, ticks: [1, 5], labels: [1, 5] },
    { min: 7, max: 12, top: 406, bottom: 473.3, ticks: [7, 8, 9, 10, 11, 12], labels: [7, 8, 9, 10, 11, 12] },
  ],
  labelEnd: 522.3, rows: [{ y: 527, label: "HEV p6" }, { y: 537, label: "IFNα" }, { y: 547, label: "JAK inhibitor" }],
  yTitle: [493.7, 455.7, "RNA level (relative)"], gene: [508, 397, "DDX60"],
  brackets: [[528.3, 554.3, 402, 405.7, 405.7], [554.3, 606.7, 394.3, 399.3, 400]],
});

// --- G
barPanel({
  axisX: 663.3, endX: 772.7, center0: 677, step: 25.8, barWidth: 20, values: G_VALUES, errors: G_ERRORS, points: G_POINTS, baseColor: "#333",
  segs: [
    { min: 0, max: .02, top: 509.3, bottom: 516.3, ticks: [0, .02], labels: [0, .02], digits: 2 },
    { min: .25, max: 2, top: 483, bottom: 501.7, ticks: [.25, 1, 2], labels: [1, 2] },
    { min: 5.1, max: 50, top: 407.7, bottom: 475, ticks: [5.1, 10, 20, 30, 40, 50], labels: [10, 20, 30, 40, 50] },
  ],
  labelEnd: 670.7, rows: [{ y: 528.7, label: "HEV p6" }, { y: 539, label: "IFNα" }, { y: 549.3, label: "JAK inhibitor" }],
  yTitle: [640.7, 451, "RNA level (relative)"], gene: [658.3, 399.3, "IFI27"],
  brackets: [[677, 702.3, 402.3, 407.7, 406.7], [702.7, 755, 392.3, 397.3, 398.3]],
});

// --- H
barPanel({
  axisX: 44.7, endX: 152, center0: 60, step: 25, barWidth: 19.5, values: H_VALUES, errors: H_ERRORS, points: H_POINTS, baseColor: "#333",
  segs: [
    { min: 0, max: .02, top: 749.3, bottom: 756.3, ticks: [0, .02], labels: [0, .02], digits: 2 },
    { min: .4, max: 10, top: 689.3, bottom: 742.3, ticks: [.4, 1, 4, 7, 10], labels: [1, 4, 7, 10] },
    { min: 12.5, max: 50, top: 651.7, bottom: 681.7, ticks: [12.5, 20, 35, 50], labels: [20, 35, 50] },
  ],
  labelEnd: 51, rows: [{ y: 766.7, label: "HEV p6" }, { y: 777, label: "IFNα" }, { y: 786.7, label: "JAK inhibitor" }],
  yTitle: [22.3, 704.3, "RNA level (relative)"], gene: [42.7, 641.3, "IFIT1"],
  brackets: [[60, 84.7, 646.3, 651.3, 650], [83.3, 132, 634, 638.7, 639.3]],
});

// --- I
barPanel({
  axisX: 187.3, endX: 295, center0: 203, step: 25.2, barWidth: 19.5, values: I_VALUES, errors: I_ERRORS, points: I_POINTS, baseColor: "#777",
  segs: [
    { min: 0, max: .05, top: 749.7, bottom: 756.3, ticks: [0, .05], labels: [0, .05], digits: 2 },
    { min: .32, max: 21, top: 650.7, bottom: 742.3, ticks: [.32, 1, 5, 9, 13, 17, 21], labels: [1, 5, 9, 13, 17, 21] },
  ],
  labelEnd: 190, rows: [{ y: 766.7 }, { y: 777 }, { y: 787.3 }], gene: [181.7, 639, "MX1"],
  brackets: [[203, 228.3, 649.7, 655, 655], [227.3, 277.7, 634, 639.3, 639.3]],
});

// --- J
barPanel({
  axisX: 44.7, endX: 152, center0: 60, step: 25, barWidth: 19.5, values: J_VALUES, errors: J_ERRORS, points: J_POINTS, baseColor: "#777",
  segs: [
    { min: 0, max: 2, top: 945.3, bottom: 963.7, ticks: [0, 1, 2], labels: [0, 1, 2] },
    { min: 4, max: 7, top: 914.7, bottom: 937.7, ticks: [4, 5, 6, 7], labels: [4, 5, 6, 7] },
    { min: 20, max: 60, top: 858.3, bottom: 907.7, ticks: [20, 30, 40, 50, 60], labels: [20, 30, 40, 50, 60] },
  ],
  labelEnd: 45, rows: [{ y: 973.3, label: "HEV p6" }, { y: 983.3, label: "IFNα" }, { y: 993.3, label: "JAK inhibitor" }],
  yTitle: [21, 918.3, "RNA level (relative)"], gene: [35.7, 850.7, "ISG15"],
  brackets: [[60, 85.7, 861, 866, 865.3], [86.7, 135.7, 853.3, 858.3, 858.3]],
});

// --- K
barPanel({
  axisX: 187.3, endX: 295, center0: 203, step: 25.2, barWidth: 19.5, values: K_VALUES, errors: K_ERRORS, points: K_POINTS, baseColor: "#777",
  segs: [{ min: 0, max: 5, top: 858.7, bottom: 963.7, ticks: [0, 1, 2, 3, 4, 5], labels: [0, 1, 2, 3, 4, 5] }],
  labelEnd: 190, rows: [{ y: 973.3 }, { y: 983.3 }, { y: 993.3 }], gene: [183, 850.7, "STAT1"],
  brackets: [[203.3, 228.3, 853.3, 858.3, 858.3], [228.3, 277.3, 837.3, 842.7, 842.7]],
});

// --- L heatmap
const HX = 359, HW = 371;
let heatIndex = 0;
{
  const g = grids.length;
  grids.push({ left: HX, width: HW, top: 662.7, height: 309 });
  xAxes.push({ gridIndex: g, type: "category", data: TRNA, axisLine: { show: false }, axisTick: { show: false }, axisLabel: { interval: 0, rotate: -90, margin: 3, fontSize: 8, fontFamily: FONT, color: INK }, splitArea: { show: false } });
  yAxes.push({ gridIndex: g, type: "category", inverse: true, data: HEAT_ROWS, axisLine: { show: false }, axisTick: { show: false }, axisLabel: { interval: 0, margin: 4, fontSize: 8.2, fontFamily: FONT, color: INK } });
  const heatData: number[][] = [];
  HEAT_VALUES.forEach((row, r) => row.forEach((v, c) => heatData.push([c, r, v])));
  heatIndex = series.length;
  series.push({ type: "heatmap", xAxisIndex: g, yAxisIndex: g, silent: true, data: heatData, itemStyle: { borderColor: "#a3a3a3", borderWidth: 1 } });

  const a = grids.length;
  grids.push({ left: HX, width: HW, top: 653.3, height: 6.7 });
  xAxes.push({ gridIndex: a, type: "category", data: TRNA, show: false });
  yAxes.push({ gridIndex: a, type: "value", min: 0, max: 1, show: false });
  series.push({ type: "bar", xAxisIndex: a, yAxisIndex: a, silent: true, barWidth: "100%", data: TRNA.map((t) => ({ value: 1, itemStyle: { color: AMINO_COLORS[AMINO.indexOf(t.split("-")[0])], borderColor: "#bbb", borderWidth: 0.8 } })) });
  text(354, 656, "Amino acid", { align: "right", fontSize: 7.6 });

  // dendrogram
  const d = grids.length;
  grids.push({ left: HX, width: HW, top: 612.3, height: 40.7 });
  xAxes.push({ gridIndex: d, type: "value", min: -0.5, max: TRNA.length - 0.5, show: false });
  yAxes.push({ gridIndex: d, type: "value", min: 0, max: 122, show: false });
  let leaf = 0;
  const merges: number[][] = [];
  const walk = (n: any): [number, number] => {
    if (n === 0) return [leaf++, 0];
    const [xa, ha] = walk(n[1]);
    const [xb, hb] = walk(n[2]);
    merges.push([xa, ha, xb, hb, n[0]]);
    return [(xa + xb) / 2, n[0]];
  };
  walk(DENDRO);
  series.push({
    type: "custom", xAxisIndex: d, yAxisIndex: d, coordinateSystem: "cartesian2d", silent: true, encode: { x: 0, y: 1 }, data: merges,
    renderItem: (_: any, api: any) => {
      const P = (x: number, y: number) => api.coord([x, y]);
      const xa = api.value(0), ha = api.value(1), xb = api.value(2), hb = api.value(3), h = api.value(4);
      return { type: "polyline", shape: { points: [P(xa, ha), P(xa, h), P(xb, h), P(xb, hb)] }, style: { stroke: "#444", lineWidth: 0.9, fill: "none" } };
    },
  });
  // legends
  text(736.7, 671.7, "{r|Log}{s|10}", { rich: richStyles });
  [["2", 681], ["1", 701.7], ["0", 723.3], ["−1", 745], ["−2", 765.7]].forEach(([t, y]: any) => text(752.7, y, t));
  text(732.7, 791.3, "Amino acid", { fontSize: 7.6 });
  AMINO.forEach((n, i) => {
    const y = 801.3 + i * 6.82;
    gfx.push({ type: "rect", z: 99, silent: true, shape: { x: 743.3, y: y - 3.41, width: 7.4, height: 6.82 }, style: { fill: AMINO_COLORS[i], stroke: "#ccc", lineWidth: 0.5 } });
    text(753.3, y, n, { fontSize: 6.8 });
  });
}

const option: any = {
  animation: false,
  textStyle: { fontFamily: FONT },
  grid: grids,
  xAxis: xAxes,
  yAxis: yAxes,
  series,
  visualMap: {
    type: "continuous", min: -2, max: 2, seriesIndex: heatIndex, dimension: 2, calculable: false, left: 743.3, top: 680.7, itemWidth: 7, itemHeight: 87, text: ["", ""], textGap: 0, padding: 0,
    inRange: { color: ["#2f7fbf", "#ffffff", "#e5322d"] },
  },
  graphic: { elements: gfx },
};

export default function App() {
  const ref = useRef<HTMLDivElement>(null);
  useEffect(() => {
    if (!ref.current) return;
    const chart = echarts.init(ref.current, undefined, { renderer: "svg" });
    chart.setOption(option);
    return () => chart.dispose();
  }, []);
  return <div ref={ref} style={{ position: "absolute", left: 0, top: 0, width: 776, height: 1018, willChange: "transform" }} />;
}
